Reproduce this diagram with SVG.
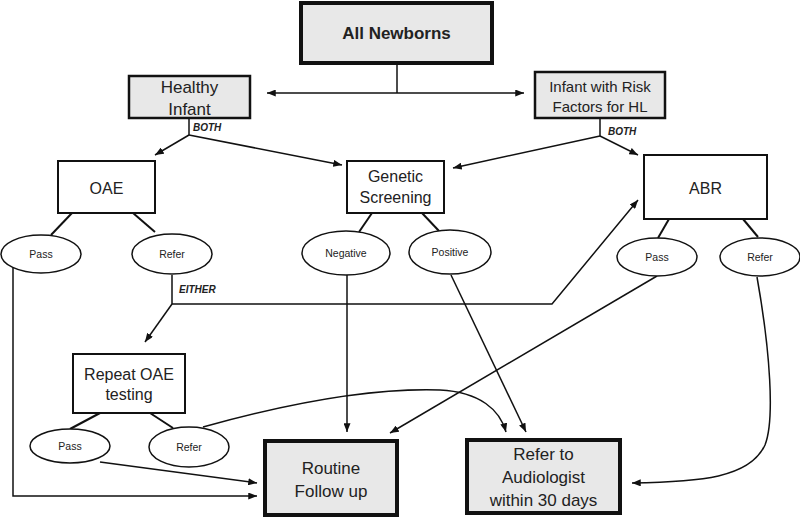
<svg xmlns="http://www.w3.org/2000/svg" width="800" height="517" viewBox="0 0 800 517">
<defs>
<marker id="ah" viewBox="0 0 10 8" refX="10" refY="4" markerWidth="9" markerHeight="7" orient="auto-start-reverse" markerUnits="userSpaceOnUse"><path d="M0,0 L10,4 L0,8 z" fill="#111"/></marker>
<style>
text{font-family:"Liberation Sans",Arial,sans-serif;fill:#222;text-anchor:middle}
.big{stroke:#111;stroke-width:4;fill:#e8e8e8}
.grey{stroke:#111;stroke-width:2.5;fill:#e8e8e8}
.box{stroke:#111;stroke-width:2;fill:#fff}
.ell{stroke:#111;stroke-width:1.5;fill:#fff}
.t17{font-size:17px}
.t16{font-size:16px}
.t15{font-size:15px}
.s{font-size:10.5px}
.lab{font-size:10px;font-weight:bold;font-style:italic;text-anchor:start}
#connectors path{fill:none;stroke:#111;stroke-width:1.5}
#connectors .a{marker-end:url(#ah)}
#connectors .b{stroke-width:2}
</style>
</defs>
<rect width="800" height="517" fill="#fff"/>
<g id="connectors">
<path d="M397,63 V93"/>
<path d="M267,93 H524" marker-start="url(#ah)" marker-end="url(#ah)"/>
<path d="M189,118 V135"/>
<path class="a" d="M189,135 L155,155"/>
<path class="a" d="M189,135 L342,165"/>
<path d="M600,118 V136"/>
<path class="a" d="M600,136 L453,168"/>
<path class="a" d="M600,136 L638,155"/>
<path class="b" d="M72,213 L51,235"/>
<path class="b" d="M133,213 L155,232"/>
<path class="b" d="M372,213 L359,232"/>
<path class="b" d="M422,213 L439,231"/>
<path class="b" d="M669,219 L658,238"/>
<path class="b" d="M743,219 L758,237"/>
<path class="b" d="M100,413 L70,429"/>
<path class="b" d="M150,413 L173,428"/>
<path class="a" d="M13,267 V496 H257"/>
<path class="a" d="M172,275 V304 H552 L638,200"/>
<path class="a" d="M172,304 L145,342"/>
<path class="a" d="M347,275 V432"/>
<path class="a" d="M451,275 L526,432"/>
<path class="a" d="M657,276 L390,433"/>
<path class="a" d="M757,277 C770,350 775,420 765,445 C750,478 700,482 632,483"/>
<path class="a" d="M100,462 L257,483"/>
<path class="a" d="M203,427 C300,400 380,388 440,390 C480,392 500,410 506,432"/>
</g>
<g id="all-newborns"><rect class="big" x="301" y="3" width="191" height="60"/><text class="t17" x="396.5" y="39" font-weight="bold">All Newborns</text></g>
<g id="healthy-infant"><rect class="grey" x="129" y="76" width="121" height="42"/><text class="t17" x="189.5" y="93">Healthy</text><text class="t17" x="189.5" y="115">Infant</text></g>
<g id="risk-infant"><rect class="grey" x="535" y="72" width="130" height="46"/><text class="t15" x="600" y="92">Infant with Risk</text><text class="t15" x="600" y="112">Factors for HL</text></g>
<g id="both-1"><text class="lab" x="193" y="131">BOTH</text></g>
<g id="both-2"><text class="lab" x="608" y="135">BOTH</text></g>
<g id="oae"><rect class="box" x="58" y="161" width="97" height="52"/><text class="t16" x="106.5" y="194">OAE</text></g>
<g id="genetic"><rect class="box" x="347" y="161" width="97" height="52"/><text class="t16" x="395.5" y="182">Genetic</text><text class="t16" x="395.5" y="203">Screening</text></g>
<g id="abr"><rect class="box" x="644" y="155" width="123" height="64"/><text class="t16" x="705.5" y="194">ABR</text></g>
<g id="oae-pass"><ellipse class="ell" cx="41" cy="254" rx="40" ry="19"/><text class="s" x="41" y="258">Pass</text></g>
<g id="oae-refer"><ellipse class="ell" cx="172" cy="254" rx="40" ry="20"/><text class="s" x="172" y="258">Refer</text></g>
<g id="negative"><ellipse class="ell" cx="346" cy="253" rx="44" ry="22"/><text class="s" x="346" y="257">Negative</text></g>
<g id="positive"><ellipse class="ell" cx="450" cy="252" rx="41" ry="22"/><text class="s" x="450" y="256">Positive</text></g>
<g id="abr-pass"><ellipse class="ell" cx="657" cy="257" rx="40" ry="19"/><text class="s" x="657" y="261">Pass</text></g>
<g id="abr-refer"><ellipse class="ell" cx="760" cy="257" rx="40" ry="19"/><text class="s" x="760" y="261">Refer</text></g>
<g id="either"><text class="lab" x="179" y="293">EITHER</text></g>
<g id="repeat-oae"><rect class="box" x="73" y="354" width="112" height="59"/><text class="t16" x="129" y="380">Repeat OAE</text><text class="t16" x="129" y="400">testing</text></g>
<g id="repeat-pass"><ellipse class="ell" cx="70" cy="446" rx="40" ry="17"/><text class="s" x="70" y="450">Pass</text></g>
<g id="repeat-refer"><ellipse class="ell" cx="189" cy="447" rx="40" ry="20"/><text class="s" x="189" y="451">Refer</text></g>
<g id="routine"><rect class="big" x="265" y="441" width="132" height="74"/><text class="t17" x="331" y="474">Routine</text><text class="t17" x="331" y="497">Follow up</text></g>
<g id="audiologist"><rect class="big" x="467" y="440" width="153" height="73"/><text class="t17" x="543.5" y="460">Refer to</text><text class="t17" x="543.5" y="483">Audiologist</text><text class="t17" x="543.5" y="506">within 30 days</text></g>
</svg>
